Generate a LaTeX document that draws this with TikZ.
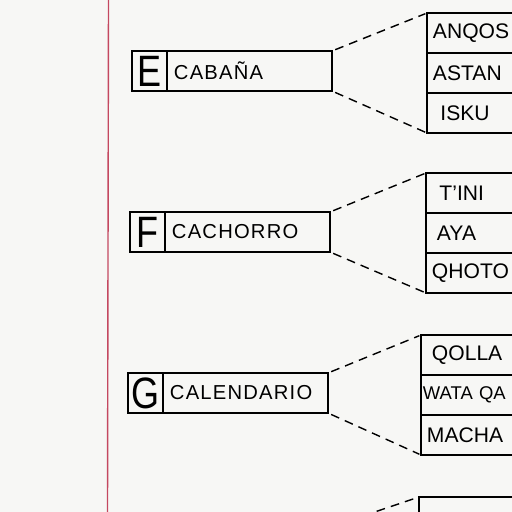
\documentclass[tikz,border=0pt]{standalone}
\usepackage{fontspec}
\setmainfont{Liberation Sans}
\usetikzlibrary{positioning}
\definecolor{paper}{RGB}{247,247,245}
\definecolor{marginred}{RGB}{196,72,96}
\tikzset{
  letterbox/.style={draw, line width=0.9pt, anchor=north west, inner sep=0pt, outer sep=0pt,
    minimum width=0.7cm, minimum height=0.8cm,
    font=\fontsize{25}{25}\selectfont\addfontfeature{FakeStretch=0.82}},
  wordbox/.style={draw, line width=0.9pt, inner sep=0pt, inner xsep=0.14cm, outer sep=0pt,
    text width=3.02cm, align=left, minimum height=0.8cm,
    font=\fontsize{11.5}{12}\selectfont\addfontfeature{LetterSpace=6}},
  rowbox/.style={draw, line width=0.9pt, anchor=north west, inner sep=0pt, inner xsep=0.12cm,
    outer sep=0pt, text width=2.8cm, align=left, minimum height=0.8cm,
    font=\fontsize{12}{12}\selectfont},
  link/.style={line width=0.8pt, dash pattern=on 5pt off 3.5pt, shorten <=2pt, shorten >=1pt}
}
\begin{document}
\begin{tikzpicture}[x=0.02cm,y=-0.02cm]
  \fill[paper] (0,0) rectangle (512,512);
  \clip (0,0) rectangle (512,512);
  % margin line
  \draw[marginred, line width=0.8pt] (108.5,0) -- (107.5,512);

  % E
  \node[letterbox] (e-let) at (132,51) {E};
  \node[wordbox, right=0pt of e-let] (e-word) {CABAÑA};
  \node[rowbox] (e-r1) at (427,13) {ANQOS};
  \node[rowbox, below=0pt of e-r1] (e-r2) {ASTAN};
  \node[rowbox, below=0pt of e-r2] (e-r3) {\hspace{0.15cm}ISKU};
  \draw[link] (e-word.north east) -- (e-r1.north west);
  \draw[link] (e-word.south east) -- (e-r3.south west);

  % F
  \node[letterbox] (f-let) at (130,212) {F};
  \node[wordbox, right=0pt of f-let] (f-word) {CACHORRO};
  \node[rowbox] (f-r1) at (426,173) {\hspace{0.15cm}T'INI};
  \node[rowbox, below=0pt of f-r1] (f-r2) {\hspace{0.1cm}AYA};
  \node[rowbox, below=0pt of f-r2] (f-r3) {QHOTO};
  \draw[link] (f-word.north east) -- (f-r1.north west);
  \draw[link] (f-word.south east) -- (f-r3.south west);

  % G
  \node[letterbox] (g-let) at (128,373) {G};
  \node[wordbox, right=0pt of g-let] (g-word) {CALENDARIO};
  \node[rowbox] (g-r1) at (421,335) {\hspace{0.1cm}QOLLA};
  \node[rowbox, below=0pt of g-r1, font=\fontsize{10.5}{11}\selectfont] (g-r2) {\hspace*{-0.08cm}WATA QA};
  \node[rowbox, below=0pt of g-r2] (g-r3) {MACHA};
  \draw[link] (g-word.north east) -- (g-r1.north west);
  \draw[link] (g-word.south east) -- (g-r3.south west);

  % next one, cut off
  \coordinate (h-word) at (345,522);
  \node[rowbox] (h-r1) at (419,497) {};
  \draw[link] (h-word) -- (h-r1.north west);
\end{tikzpicture}
\end{document}
